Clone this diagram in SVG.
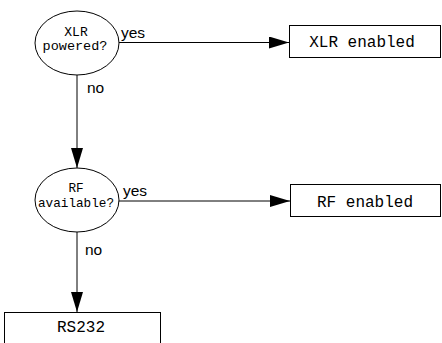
<svg xmlns="http://www.w3.org/2000/svg" width="442" height="343" viewBox="0 0 442 343">
<defs>
<marker id="ah" markerWidth="20" markerHeight="12" refX="20" refY="6" orient="auto" markerUnits="userSpaceOnUse">
<path d="M0,0 L20,6 L0,12 Z" fill="#000"/>
</marker>
<style>
.shape{fill:#fff;stroke:#000;stroke-width:1}
.mono{font-family:"Liberation Mono","Courier New",monospace;fill:#000;text-anchor:middle}
.lbl{font-family:"Liberation Sans",Arial,sans-serif;font-size:15.5px;fill:#000}
.edge{stroke:#000;stroke-width:1;fill:none;marker-end:url(#ah)}
</style>
</defs>
<rect width="442" height="343" fill="#fff"/>
<g id="connectors">
<line class="edge" x1="119" y1="42.5" x2="289" y2="42.5"/>
<line class="edge" x1="77" y1="75" x2="77" y2="168"/>
<line class="edge" x1="118" y1="201" x2="290" y2="201"/>
<line class="edge" x1="77" y1="232" x2="77" y2="312"/>
<text class="lbl" x="121" y="38">yes</text>
<text class="lbl" x="87" y="93">no</text>
<text class="lbl" x="123" y="196">yes</text>
<text class="lbl" x="85" y="255">no</text>
</g>
<g id="xlr_powered">
<ellipse class="shape" cx="77" cy="43" rx="42" ry="32"/>
<text class="mono" x="76" y="36" font-size="13">XLR</text>
<text class="mono" x="75" y="50" font-size="13.5">powered?</text>
</g>
<g id="xlr_enabled">
<rect class="shape" x="289.5" y="25.5" width="151" height="32"/>
<text class="mono" x="362" y="47" font-size="16">XLR enabled</text>
</g>
<g id="rf_available">
<ellipse class="shape" cx="77" cy="200" rx="42" ry="32"/>
<text class="mono" x="76" y="192" font-size="12.7">RF</text>
<text class="mono" x="76" y="207" font-size="12.7">available?</text>
</g>
<g id="rf_enabled">
<rect class="shape" x="290.5" y="184.5" width="150" height="32"/>
<text class="mono" x="365" y="207" font-size="16">RF enabled</text>
</g>
<g id="rs232">
<rect class="shape" x="4.5" y="312.5" width="156" height="40"/>
<text class="mono" x="81" y="332" font-size="16">RS232</text>
</g>
</svg>
